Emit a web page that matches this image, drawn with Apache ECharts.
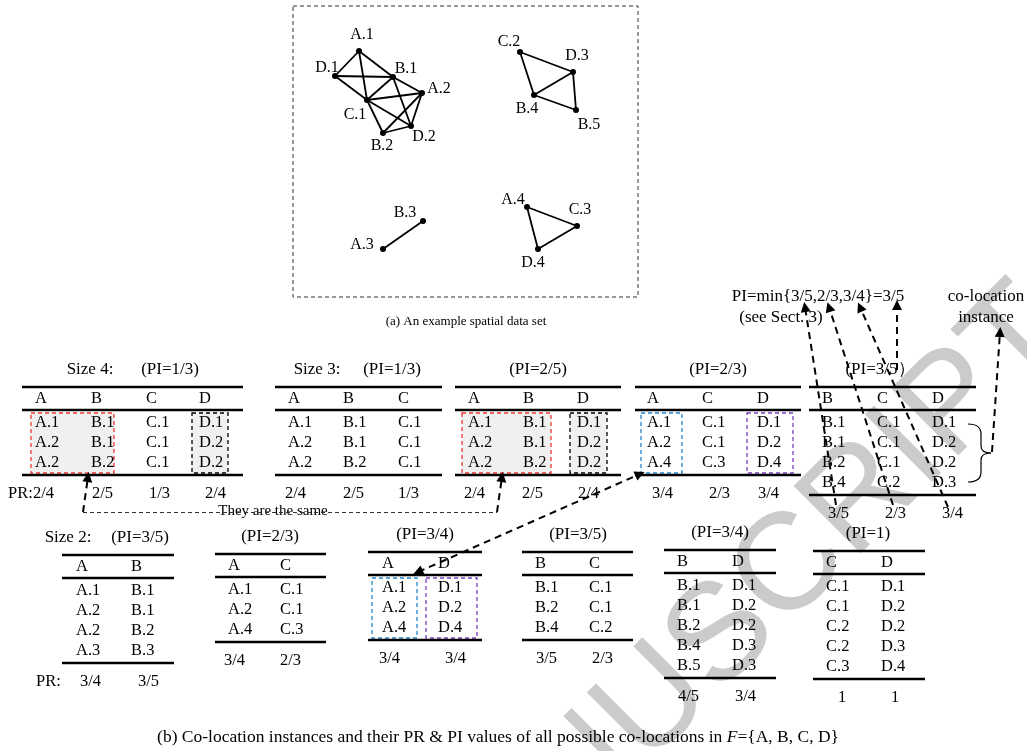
<!DOCTYPE html>
<html>
<head>
<meta charset="utf-8">
<script src="https://cdn.jsdelivr.net/npm/echarts@6/dist/echarts.min.js"></script>
<style>
  html, body { margin: 0; padding: 0; background: #fff; }
  #main { width: 1027px; height: 751px; }
</style>
</head>
<body>
<div id="main"></div>
<script>
// ---- spatial data set: instance id and its position in the plane ----
const instances = [
  ['A.1', 359, 51], ['D.1', 335, 76], ['B.1', 393, 77], ['A.2', 422, 93],
  ['C.1', 367, 100], ['D.2', 411, 126], ['B.2', 383, 133],
  ['C.2', 520, 52], ['D.3', 573, 72], ['B.4', 534, 95], ['B.5', 576, 110],
  ['B.3', 423, 221], ['A.3', 383, 249],
  ['A.4', 527, 207], ['C.3', 577, 226], ['D.4', 538, 249]
];
// neighbour relationships (edges between instances)
const neighbours = [
  ['A.1', 'D.1'], ['A.1', 'B.1'], ['A.1', 'C.1'], ['D.1', 'B.1'], ['D.1', 'C.1'],
  ['B.1', 'C.1'], ['B.1', 'A.2'], ['B.1', 'D.2'], ['C.1', 'A.2'], ['C.1', 'D.2'],
  ['C.1', 'B.2'], ['A.2', 'D.2'], ['A.2', 'B.2'], ['B.2', 'D.2'],
  ['C.2', 'D.3'], ['C.2', 'B.4'], ['B.4', 'D.3'], ['D.3', 'B.5'], ['B.4', 'B.5'],
  ['A.3', 'B.3'],
  ['A.4', 'C.3'], ['A.4', 'D.4'], ['C.3', 'D.4']
];

// ---- co-location tables: features, instances, participation ratios, PI ----
const abcdCols = ['A', 'B', 'C', 'D'];
const abcdRows = [['A.1', 'B.1', 'C.1', 'D.1'], ['A.2', 'B.1', 'C.1', 'D.2'], ['A.2', 'B.2', 'C.1', 'D.2']];
const abcdPR = ['2/4', '2/5', '1/3', '2/4'];
const abcdPI = '1/3';

const abcCols = ['A', 'B', 'C'];
const abcRows = [['A.1', 'B.1', 'C.1'], ['A.2', 'B.1', 'C.1'], ['A.2', 'B.2', 'C.1']];
const abcPR = ['2/4', '2/5', '1/3'];
const abcPI = '1/3';

const abdCols = ['A', 'B', 'D'];
const abdRows = [['A.1', 'B.1', 'D.1'], ['A.2', 'B.1', 'D.2'], ['A.2', 'B.2', 'D.2']];
const abdPR = ['2/4', '2/5', '2/4'];
const abdPI = '2/5';

const acdCols = ['A', 'C', 'D'];
const acdRows = [['A.1', 'C.1', 'D.1'], ['A.2', 'C.1', 'D.2'], ['A.4', 'C.3', 'D.4']];
const acdPR = ['3/4', '2/3', '3/4'];
const acdPI = '2/3';

const bcdCols = ['B', 'C', 'D'];
const bcdRows = [['B.1', 'C.1', 'D.1'], ['B.1', 'C.1', 'D.2'], ['B.2', 'C.1', 'D.2'], ['B.4', 'C.2', 'D.3']];
const bcdPR = ['3/5', '2/3', '3/4'];
const bcdPI = '3/5';

const abCols = ['A', 'B'];
const abRows = [['A.1', 'B.1'], ['A.2', 'B.1'], ['A.2', 'B.2'], ['A.3', 'B.3']];
const abPR = ['3/4', '3/5'];
const abPI = '3/5';

const acCols = ['A', 'C'];
const acRows = [['A.1', 'C.1'], ['A.2', 'C.1'], ['A.4', 'C.3']];
const acPR = ['3/4', '2/3'];
const acPI = '2/3';

const adCols = ['A', 'D'];
const adRows = [['A.1', 'D.1'], ['A.2', 'D.2'], ['A.4', 'D.4']];
const adPR = ['3/4', '3/4'];
const adPI = '3/4';

const bcCols = ['B', 'C'];
const bcRows = [['B.1', 'C.1'], ['B.2', 'C.1'], ['B.4', 'C.2']];
const bcPR = ['3/5', '2/3'];
const bcPI = '3/5';

const bdCols = ['B', 'D'];
const bdRows = [['B.1', 'D.1'], ['B.1', 'D.2'], ['B.2', 'D.2'], ['B.4', 'D.3'], ['B.5', 'D.3']];
const bdPR = ['4/5', '3/4'];
const bdPI = '3/4';

const cdCols = ['C', 'D'];
const cdRows = [['C.1', 'D.1'], ['C.1', 'D.2'], ['C.2', 'D.2'], ['C.2', 'D.3'], ['C.3', 'D.4']];
const cdPR = ['1', '1'];
const cdPI = '1';

// ---- layout / styling ----
const SERIF = '"Liberation Serif", "Times New Roman", serif';
const RED = '#ee3535', BLUE = '#1f86d2', PURPLE = '#7b3fc0', SHADE = '#f0f0f0';

const labelOffset = {
  'A.1': [3, -16], 'D.1': [-8, -8], 'B.1': [13, -8], 'A.2': [17, -4], 'C.1': [-12, 15],
  'D.2': [13, 11], 'B.2': [-1, 13], 'C.2': [-11, -10], 'D.3': [4, -16], 'B.4': [-7, 14],
  'B.5': [13, 15], 'B.3': [-18, -8], 'A.3': [-21, -4], 'A.4': [-14, -7], 'C.3': [3, -16],
  'D.4': [-5, 14]
};

const tables = [
  { cols: abcdCols, rows: abcdRows, pr: abcdPR, pi: abcdPI, x0: 22, x1: 243, top: 387,
    colX: [35, 91, 146, 199], prX: [33, 92, 149, 205], titleX: 170, sizeText: 'Size 4:', sizeX: 90, prLabelX: 8,
    boxes: [{ x0: 31, x1: 114, color: RED, fill: SHADE }, { x0: 192, x1: 228, color: '#000', fill: SHADE }] },
  { cols: abcCols, rows: abcRows, pr: abcPR, pi: abcPI, x0: 275, x1: 442, top: 387,
    colX: [288, 343, 398], prX: [285, 343, 398], titleX: 392, sizeText: 'Size 3:', sizeX: 317 },
  { cols: abdCols, rows: abdRows, pr: abdPR, pi: abdPI, x0: 455, x1: 621, top: 387,
    colX: [468, 523, 577], prX: [464, 522, 578], titleX: 538,
    boxes: [{ x0: 462, x1: 551, color: RED, fill: SHADE }, { x0: 570, x1: 607, color: '#000', fill: SHADE }] },
  { cols: acdCols, rows: acdRows, pr: acdPR, pi: acdPI, x0: 635, x1: 801, top: 387,
    colX: [647, 702, 757], prX: [652, 709, 758], titleX: 718,
    boxes: [{ x0: 641, x1: 682, color: BLUE }, { x0: 747, x1: 793, color: PURPLE }] },
  { cols: bcdCols, rows: bcdRows, pr: bcdPR, pi: bcdPI, x0: 809, x1: 976, top: 387,
    colX: [822, 877, 932], prX: [828, 885, 942], titleX: 880, closeParen: '）' },
  { cols: abCols, rows: abRows, pr: abPR, pi: abPI, x0: 62, x1: 174, top: 555,
    colX: [76, 131], prX: [80, 138], titleX: 140, sizeText: 'Size 2:', sizeX: 68, prLabelX: 36 },
  { cols: acCols, rows: acRows, pr: acPR, pi: acPI, x0: 215, x1: 326, top: 554,
    colX: [228, 280], prX: [224, 280], titleX: 270 },
  { cols: adCols, rows: adRows, pr: adPR, pi: adPI, x0: 368, x1: 482, top: 552,
    colX: [382, 438], prX: [379, 445], titleX: 425,
    boxes: [{ x0: 372, x1: 417, color: BLUE }, { x0: 426, x1: 477, color: PURPLE }] },
  { cols: bcCols, rows: bcRows, pr: bcPR, pi: bcPI, x0: 522, x1: 633, top: 552,
    colX: [535, 589], prX: [536, 592], titleX: 578 },
  { cols: bdCols, rows: bdRows, pr: bdPR, pi: bdPI, x0: 664, x1: 776, top: 550,
    colX: [677, 732], prX: [678, 735], titleX: 720 },
  { cols: cdCols, rows: cdRows, pr: cdPR, pi: cdPI, x0: 813, x1: 925, top: 551,
    colX: [826, 881], prX: [838, 891], titleX: 868 }
];

function textEl(p, s, size, align, extra) {
  return {
    type: 'text', x: p[0], y: p[1], z2: 5,
    style: Object.assign({
      text: s, font: size + 'px ' + SERIF, fill: '#000',
      align: align || 'left', verticalAlign: 'middle',
      textAlign: align || 'left', textVerticalAlign: 'middle', legacy: false
    }, extra || {})
  };
}
function lineEl(a, b, w) {
  return { type: 'line', shape: { x1: a[0], y1: a[1], x2: b[0], y2: b[1] }, style: { stroke: '#000', lineWidth: w } };
}

function renderTable(params, api) {
  const t = tables[params.dataIndex];
  const P = (x, y) => api.coord([x, y]);
  const n = t.rows.length;
  const headY = t.top + 12, rule2 = t.top + 23, row0 = t.top + 36;
  const bottom = row0 + 20 * (n - 1) + 12, prY = bottom + 19;
  const kids = [];
  (t.boxes || []).forEach(b => {
    const a = P(b.x0, rule2 + 3), z = P(b.x1, bottom - 2);
    kids.push({ type: 'rect', shape: { x: a[0], y: a[1], width: z[0] - a[0], height: z[1] - a[1] },
      style: { fill: b.fill || 'none', stroke: b.color, lineWidth: 1.3, lineDash: [4, 3] } });
  });
  [t.top, rule2, bottom].forEach(y => kids.push(lineEl(P(t.x0, y), P(t.x1, y), 2.6)));
  t.cols.forEach((c, j) => kids.push(textEl(P(t.colX[j], headY), c, 16.5)));
  t.rows.forEach((r, i) => r.forEach((c, j) => kids.push(textEl(P(t.colX[j], row0 + 20 * i), c, 16.5))));
  t.pr.forEach((c, j) => kids.push(textEl(P(t.prX[j], prY), c, 16.5)));
  kids.push(textEl(P(t.titleX, t.top - 17), '(PI=' + t.pi + (t.closeParen || ')'), 17, 'center'));
  if (t.sizeText) kids.push(textEl(P(t.sizeX, t.top - 17), t.sizeText, 17, 'center'));
  if (t.prLabelX != null) kids.push(textEl(P(t.prLabelX, prY), 'PR:', 16.5));
  return { type: 'group', children: kids };
}

function renderNotes(params, api) {
  const P = (x, y) => api.coord([x, y]);
  const kids = [];
  // frame of the example data set
  const f0 = P(293, 6), f1 = P(638, 297);
  kids.push({ type: 'rect', shape: { x: f0[0], y: f0[1], width: f1[0] - f0[0], height: f1[1] - f0[1] },
    style: { fill: 'none', stroke: '#333', lineWidth: 1, lineDash: [4, 3] } });
  kids.push(textEl(P(466, 322), '(a) An example spatial data set', 13, 'center'));
  kids.push(textEl(P(498, 737), '{n|(b) Co-location instances and their PR & PI values of all possible co-locations in }{i|F}{n|={A, B, C, D}}', 17.5, 'center', {
    rich: { n: { fontFamily: SERIF, fontSize: 17.5, fill: '#000' }, i: { fontFamily: SERIF, fontSize: 17.5, fontStyle: 'italic', fill: '#000' } }
  }));
  kids.push(textEl(P(818, 297), 'PI=min{3/5,2/3,3/4}=3/5', 17, 'center'));
  kids.push(textEl(P(781, 318), '(see Sect. 3)', 17, 'center'));
  kids.push(textEl(P(986, 297), 'co-location', 17, 'center'));
  kids.push(textEl(P(986, 318), 'instance', 17, 'center'));
  kids.push(textEl(P(273, 511), 'They are the same', 15, 'center'));
  // brace grouping the size-3 instances
  const bz = (a, c, b) => ({ type: 'bezierCurve', shape: { x1: a[0], y1: a[1], cpx1: c[0], cpy1: c[1], x2: b[0], y2: b[1] },
    style: { stroke: '#000', fill: 'none', lineWidth: 1.2 } });
  kids.push(bz(P(968, 424), P(981, 424), P(981, 434)));
  kids.push(lineEl(P(981, 434), P(981, 446), 1.2));
  kids.push(bz(P(981, 446), P(981, 453), P(991, 453)));
  kids.push(bz(P(991, 453), P(981, 453), P(981, 460)));
  kids.push(lineEl(P(981, 460), P(981, 472), 1.2));
  kids.push(bz(P(981, 472), P(981, 482), P(968, 482)));
  return { type: 'group', children: kids };
}

const dash = [7, 5];
const option = {
  animation: false,
  backgroundColor: '#fff',
  grid: { left: 0, right: 0, top: 0, bottom: 0 },
  xAxis: { type: 'value', min: 0, max: 1027, show: false },
  yAxis: { type: 'value', min: 0, max: 751, inverse: true, show: false },
  graphic: {
    elements: [{
      type: 'text', x: 1048, y: 312, rotation: Math.PI / 4, z: -10, silent: true,
      style: { text: 'ACCEPTED MANUSCRIPT', font: '138px "Liberation Sans", sans-serif', fill: '#cbcbcb',
        align: 'right', verticalAlign: 'middle' }
    }]
  },
  series: [
    {
      type: 'graph', coordinateSystem: 'cartesian2d', layout: 'none', z: 4,
      symbol: 'circle', symbolSize: 6,
      itemStyle: { color: '#000' },
      lineStyle: { color: '#000', width: 1.8, opacity: 1, curveness: 0 },
      label: { show: true, position: 'inside', fontFamily: SERIF, fontSize: 16, color: '#000' },
      emphasis: { disabled: true },
      data: instances.map(d => ({ name: d[0], value: [d[1], d[2]], label: { offset: labelOffset[d[0]] } })),
      links: neighbours.map(e => ({ source: e[0], target: e[1] }))
    },
    {
      type: 'custom', coordinateSystem: 'cartesian2d', clip: false, z: 3,
      data: tables.map(t => [t.x0, t.top]),
      renderItem: renderTable
    },
    {
      type: 'custom', coordinateSystem: 'cartesian2d', clip: false, z: 3,
      data: [[0, 0]],
      renderItem: renderNotes
    },
    {
      // thin connector under "They are the same"
      type: 'lines', coordinateSystem: 'cartesian2d', z: 5, symbol: 'none',
      lineStyle: { color: '#333', width: 1, type: [4, 3], opacity: 1 },
      data: [{ coords: [[83, 512], [497, 512]] }]
    },
    {
      type: 'lines', coordinateSystem: 'cartesian2d', z: 5,
      symbol: ['none', 'triangle'], symbolSize: 10,
      lineStyle: { color: '#000', width: 2, type: dash, opacity: 1 },
      data: [
        { coords: [[83, 512], [88, 477]] },
        { coords: [[497, 512], [502, 477]] },
        { coords: [[836, 505], [805, 307]] },
        { coords: [[893, 505], [829, 307]] },
        { coords: [[948, 507], [860, 307]] },
        { coords: [[897, 370], [897, 305]] },
        { coords: [[992, 452], [1000, 332]] }
      ]
    },
    {
      type: 'lines', coordinateSystem: 'cartesian2d', z: 5,
      symbol: ['triangle', 'triangle'], symbolSize: 10,
      lineStyle: { color: '#000', width: 2, type: dash, opacity: 1 },
      data: [{ coords: [[418, 572], [640, 474]] }]
    }
  ]
};

const chart = echarts.init(document.getElementById('main'));
chart.setOption(option);
</script>
</body>
</html>
